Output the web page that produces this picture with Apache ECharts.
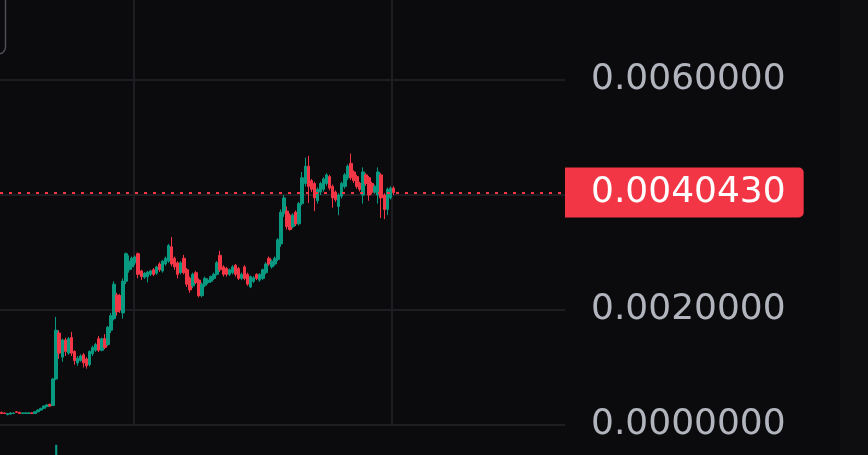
<!DOCTYPE html>
<html>
<head>
<meta charset="utf-8">
<script src="https://cdn.jsdelivr.net/npm/echarts@6/dist/echarts.min.js"></script>
<style>
html,body{margin:0;padding:0;background:#0b0b0d;}
#chart{width:868px;height:455px;}
</style>
</head>
<body>
<div id="chart"></div>
<script>
// [open, close, low, high]
const candles = [
[0.00022,0.00020,0.00019,0.00023],[0.00021,0.00020,0.00019,0.00022],[0.00018,0.00020,0.00017,0.00021],
[0.00019,0.00021,0.00018,0.00022],[0.00020,0.00021,0.00019,0.00022],[0.00023,0.00022,0.00021,0.00024],
[0.00022,0.00020,0.00019,0.00023],[0.00020,0.00021,0.00019,0.00022],[0.00020,0.00021,0.00020,0.00022],
[0.00020,0.00021,0.00019,0.00022],[0.00021,0.00020,0.00019,0.00022],[0.00020,0.00023,0.00019,0.00024],
[0.00023,0.00026,0.00022,0.00027],[0.00026,0.00029,0.00025,0.00030],[0.00029,0.00033,0.00028,0.00034],
[0.00032,0.00035,0.00031,0.00036],[0.00036,0.00033,0.00032,0.00037],[0.00034,0.00080,0.00033,0.00082],
[0.00080,0.00165,0.00078,0.00188],[0.00160,0.00125,0.00115,0.00165],[0.00118,0.00148,0.00110,0.00150],
[0.00148,0.00128,0.00120,0.00152],[0.00125,0.00150,0.00122,0.00153],[0.00152,0.00125,0.00120,0.00162],
[0.00128,0.00112,0.00105,0.00130],[0.00108,0.00116,0.00103,0.00120],[0.00112,0.00120,0.00110,0.00123],
[0.00122,0.00108,0.00100,0.00125],[0.00115,0.00103,0.00098,0.00118],[0.00105,0.00128,0.00102,0.00130],
[0.00124,0.00135,0.00120,0.00138],[0.00130,0.00140,0.00127,0.00143],[0.00150,0.00130,0.00127,0.00155],
[0.00130,0.00150,0.00128,0.00152],[0.00150,0.00135,0.00132,0.00158],[0.00140,0.00170,0.00137,0.00172],
[0.00165,0.00190,0.00160,0.00195],[0.00185,0.00245,0.00182,0.00250],[0.00226,0.00197,0.00190,0.00230],
[0.00225,0.00200,0.00195,0.00228],[0.00195,0.00250,0.00185,0.00255],[0.00250,0.00298,0.00245,0.00300],
[0.00270,0.00285,0.00265,0.00295],[0.00275,0.00290,0.00270,0.00293],[0.00282,0.00292,0.00278,0.00295],
[0.00298,0.00262,0.00255,0.00300],[0.00268,0.00258,0.00252,0.00270],[0.00257,0.00264,0.00254,0.00266],
[0.00258,0.00266,0.00248,0.00268],[0.00262,0.00268,0.00259,0.00270],[0.00270,0.00262,0.00259,0.00273],
[0.00264,0.00275,0.00261,0.00277],[0.00280,0.00270,0.00266,0.00283],[0.00268,0.00285,0.00265,0.00287],
[0.00280,0.00290,0.00277,0.00293],[0.00285,0.00312,0.00282,0.00315],[0.00310,0.00280,0.00276,0.00327],
[0.00290,0.00275,0.00270,0.00293],[0.00282,0.00262,0.00255,0.00285],[0.00265,0.00282,0.00262,0.00285],
[0.00290,0.00265,0.00262,0.00296],[0.00270,0.00245,0.00240,0.00273],[0.00255,0.00235,0.00230,0.00258],
[0.00242,0.00262,0.00238,0.00265],[0.00265,0.00248,0.00245,0.00268],[0.00252,0.00225,0.00222,0.00255],
[0.00225,0.00245,0.00222,0.00248],[0.00243,0.00255,0.00240,0.00258],[0.00248,0.00252,0.00245,0.00255],
[0.00250,0.00258,0.00247,0.00260],[0.00255,0.00262,0.00252,0.00265],[0.00262,0.00282,0.00260,0.00285],
[0.00295,0.00270,0.00266,0.00303],[0.00275,0.00262,0.00258,0.00278],[0.00272,0.00262,0.00258,0.00275],
[0.00262,0.00270,0.00259,0.00272],[0.00265,0.00275,0.00262,0.00278],[0.00278,0.00262,0.00258,0.00280],
[0.00272,0.00255,0.00252,0.00275],[0.00255,0.00262,0.00252,0.00265],[0.00275,0.00255,0.00252,0.00278],
[0.00262,0.00245,0.00242,0.00265],[0.00240,0.00258,0.00238,0.00260],[0.00250,0.00256,0.00247,0.00259],
[0.00262,0.00255,0.00252,0.00264],[0.00252,0.00262,0.00249,0.00264],[0.00255,0.00270,0.00252,0.00272],
[0.00265,0.00280,0.00262,0.00283],[0.00290,0.00280,0.00277,0.00293],[0.00275,0.00285,0.00272,0.00288],
[0.00280,0.00290,0.00277,0.00293],[0.00288,0.00322,0.00285,0.00325],[0.00315,0.00370,0.00310,0.00375],
[0.00368,0.00395,0.00362,0.00400],[0.00372,0.00345,0.00340,0.00380],[0.00365,0.00340,0.00338,0.00368],
[0.00345,0.00365,0.00342,0.00368],[0.00370,0.00350,0.00346,0.00373],[0.00350,0.00385,0.00347,0.00388],
[0.00385,0.00430,0.00382,0.00440],[0.00420,0.00450,0.00415,0.00465],[0.00450,0.00415,0.00386,0.00468],
[0.00425,0.00410,0.00405,0.00428],[0.00420,0.00395,0.00372,0.00423],[0.00390,0.00410,0.00385,0.00413],
[0.00405,0.00420,0.00400,0.00423],[0.00410,0.00428,0.00406,0.00431],[0.00420,0.00435,0.00416,0.00438],
[0.00432,0.00412,0.00408,0.00435],[0.00415,0.00395,0.00378,0.00418],[0.00405,0.00392,0.00388,0.00408],
[0.00380,0.00400,0.00365,0.00403],[0.00398,0.00420,0.00394,0.00423],[0.00415,0.00435,0.00411,0.00438],
[0.00430,0.00450,0.00426,0.00453],[0.00455,0.00430,0.00426,0.00472],[0.00440,0.00425,0.00421,0.00443],
[0.00432,0.00415,0.00411,0.00435],[0.00420,0.00410,0.00406,0.00423],[0.00400,0.00440,0.00385,0.00448],
[0.00435,0.00420,0.00416,0.00438],[0.00430,0.00400,0.00390,0.00433],[0.00420,0.00405,0.00401,0.00423],
[0.00405,0.00415,0.00402,0.00418],[0.00400,0.00440,0.00385,0.00448],[0.00435,0.00395,0.00360,0.00438],
[0.00400,0.00375,0.00358,0.00403],[0.00375,0.00410,0.00365,0.00413],[0.00395,0.00412,0.00392,0.00415],
[0.00412,0.004043,0.00400,0.00415]
];

const volumes = [
4,3,3,4,3,3,4,3,3,3,4,5,6,6,7,8,6,40,92,55,30,26,22,28,25,20,18,22,20,24,
20,18,25,22,24,30,34,60,45,32,55,58,35,28,26,35,25,18,20,16,18,20,22,24,20,30,40,28,25,22,
30,32,30,24,22,30,25,20,18,16,18,26,34,22,20,16,18,20,18,16,20,22,24,16,14,16,18,22,20,18,
20,40,62,58,40,30,26,28,45,60,66,58,36,40,30,26,24,28,30,34,30,32,28,26,30,40,32,28,26,35,
30,34,26,22,40,50,38,34,28,30
];

const yTicks = [0, 0.002, 0.004, 0.006, 0.008];
const timeGridIdx = [44, 129];
const totalSlots = 186;
const categories = [];
for (let i = 0; i < totalSlots; i++) categories.push(String(i));
const lastPrice = candles[candles.length - 1][1];
const lastPoint = candles.map((c, i) => (i === candles.length - 1 ? lastPrice : null));

const UP = '#089981', DOWN = '#f23645';
const GRID = '#1e1e22';
const LABEL = '#b2b5be';
const FONT = '"DejaVu Sans", sans-serif';

const chart = echarts.init(document.getElementById('chart'), null, {renderer: 'canvas'});
chart.setOption({
  backgroundColor: '#0b0b0d',
  animation: false,
  graphic: [
    {type: 'rect', z: -10, shape: {x: 840, y: 0, width: 28, height: 455}, style: {fill: '#0e0e11'}},
    {type: 'rect', z: 10, shape: {x: -100, y: -20, width: 105.5, height: 74, r: 7},
     style: {fill: 'none', stroke: '#4d4d55', lineWidth: 1.5}}
  ],
  grid: [
    {left: 0, right: 303, top: -35, bottom: 30, outerBoundsMode: 'none', containLabel: false},
    {left: 0, right: 303, top: 440, bottom: -45, outerBoundsMode: 'none', containLabel: false}
  ],
  xAxis: [
    {type: 'category', gridIndex: 0, data: categories, boundaryGap: true,
     axisLine: {show: false}, axisTick: {show: false}, axisLabel: {show: false},
     splitLine: {show: true, showMinLine: true, showMaxLine: false,
       interval: (i) => timeGridIdx.includes(i), lineStyle: {color: GRID, width: 2}}},
    {type: 'category', gridIndex: 1, data: categories, boundaryGap: true,
     axisLine: {show: false}, axisTick: {show: false}, axisLabel: {show: false}, splitLine: {show: false}}
  ],
  yAxis: [
    {type: 'value', gridIndex: 0, position: 'right', min: yTicks[0], max: yTicks[yTicks.length - 1], interval: 0.002,
     axisLine: {show: false}, axisTick: {show: false},
     splitLine: {show: true, lineStyle: {color: GRID, width: 2}},
     axisLabel: {show: true, margin: 26, color: LABEL, fontSize: 36, fontFamily: FONT,
       formatter: (v) => v.toFixed(7)}},
    {type: 'value', gridIndex: 1, min: 0, max: 100, show: false, splitLine: {show: false}}
  ],
  series: [
    {
      type: 'candlestick', xAxisIndex: 0, yAxisIndex: 0, barWidth: 3,
      data: candles,
      itemStyle: {color: UP, color0: DOWN, borderColor: UP, borderColor0: DOWN, borderWidth: 1}
    },
    {
      type: 'line', xAxisIndex: 0, yAxisIndex: 0, data: lastPoint,
      showSymbol: false, symbol: 'none', lineStyle: {opacity: 0}, silent: true, z: 5,
      markLine: {
        silent: true, symbol: ['none', 'none'], precision: 10,
        lineStyle: {color: DOWN, type: [3, 6], width: 2},
        label: {
          show: true, position: 'end', distance: 0,
          formatter: (p) => Number(p.value).toFixed(7),
          color: '#ffffff', fontSize: 36, fontFamily: FONT, lineHeight: 28,
          backgroundColor: DOWN, padding: [12, 18, 10, 26], borderRadius: [0, 5, 5, 0]
        },
        data: [{yAxis: lastPrice}]
      }
    },
    {
      type: 'bar', xAxisIndex: 1, yAxisIndex: 1, barWidth: '70%',
      data: volumes.map((v, i) => ({value: v, itemStyle: {color: candles[i][1] >= candles[i][0] ? UP : DOWN}}))
    }
  ]
});
</script>
</body>
</html>
